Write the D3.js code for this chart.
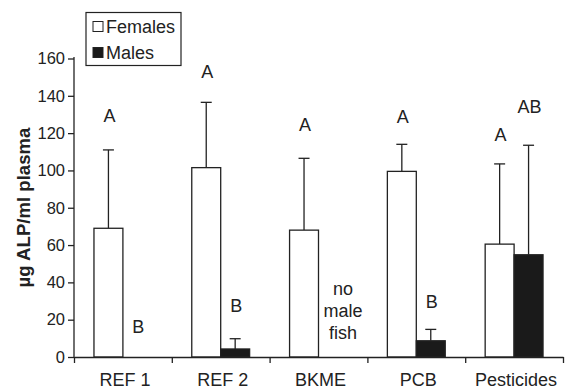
<!DOCTYPE html>
<html>
<head>
<meta charset="utf-8">
<script src="https://cdn.jsdelivr.net/npm/d3@7"></script>
<style>
  body { margin: 0; background: #fff; }
  text { font-family: "Liberation Sans", Arial, sans-serif; fill: #222; }
</style>
</head>
<body>
<div id="chart"></div>
<script>
// data
const groups = ["REF 1", "REF 2", "BKME", "PCB", "Pesticides"];
const series = ["Females", "Males"];
const femaleMean = [69, 101.5, 68, 99.5, 60.5];
const femaleErr = [111, 136.5, 106.5, 114, 103.5];   // top of upper error bar
const maleMean = [0, 4.3, null, 8.7, 54.8];          // BKME: no male fish
const maleErr = [null, 9.8, null, 14.8, 113.5];
const femaleLetters = ["A", "A", "A", "A", "A"];
const femaleLetterAt = [129.5, 153, 124.5, 129, 119];
const maleLetters = ["B", "B", null, "B", "AB"];
const maleLetterAt = [16.5, 27.5, null, 29.5, 134];
const yTicks = [0, 20, 40, 60, 80, 100, 120, 140, 160];

const width = 568, height = 389;
const margin = {top: 58.5, right: 5, bottom: 32, left: 74};

const svg = d3.select("#chart").append("svg")
    .attr("width", width)
    .attr("height", height);

const x0 = d3.scaleBand()
    .domain(groups)
    .range([margin.left, width - margin.right])
    .padding(0);

const x1 = d3.scaleBand()
    .domain(series)
    .range([0, x0.bandwidth()])
    .paddingInner(0)
    .paddingOuter(0.69);

const y = d3.scaleLinear()
    .domain([0, 160])
    .range([height - margin.bottom, margin.top]);

// boundary ticks for the x axis
const xb = d3.scaleLinear()
    .domain([0, groups.length])
    .range(x0.range());

const rows = groups.map((g, i) => ({
    group: g,
    values: [
        {key: "Females", mean: femaleMean[i], err: femaleErr[i], letter: femaleLetters[i], at: femaleLetterAt[i]},
        {key: "Males", mean: maleMean[i], err: maleErr[i], letter: maleLetters[i], at: maleLetterAt[i]}
    ]
}));

const ink = "#222";

const gGroup = svg.selectAll("g.grp")
    .data(rows)
    .join("g")
    .attr("class", "grp")
    .attr("transform", d => `translate(${x0(d.group)},0)`);

// error bars (upper only), drawn before the bars
const eb = gGroup.selectAll("g.err")
    .data(d => d.values.filter(v => v.err != null))
    .join("g")
    .attr("class", "err")
    .attr("stroke", ink)
    .attr("stroke-width", 1.3);

eb.append("line")
    .attr("x1", d => x1(d.key) + x1.bandwidth() / 2)
    .attr("x2", d => x1(d.key) + x1.bandwidth() / 2)
    .attr("y1", d => y(d.mean))
    .attr("y2", d => y(d.err));

eb.append("line")
    .attr("x1", d => x1(d.key) + x1.bandwidth() / 2 - 5.5)
    .attr("x2", d => x1(d.key) + x1.bandwidth() / 2 + 5.5)
    .attr("y1", d => y(d.err))
    .attr("y2", d => y(d.err));

gGroup.selectAll("rect")
    .data(d => d.values.filter(v => v.mean != null))
    .join("rect")
    .attr("x", d => x1(d.key))
    .attr("width", x1.bandwidth())
    .attr("y", d => y(d.mean))
    .attr("height", d => y(0) - y(d.mean))
    .attr("fill", d => d.key === "Females" ? "#fff" : "#1a1a1a")
    .attr("stroke", ink)
    .attr("stroke-width", 1.3);

// significance letters
gGroup.selectAll("text.letter")
    .data(d => d.values.filter(v => v.letter))
    .join("text")
    .attr("class", "letter")
    .attr("x", d => x1(d.key) + x1.bandwidth() / 2 + 1)
    .attr("y", d => y(d.at))
    .attr("dy", "0.36em")
    .attr("text-anchor", "middle")
    .style("font-size", "18px")
    .text(d => d.letter);

// note for BKME males
const noteX = x0("BKME") + x1("Males") + x1.bandwidth() / 2 + 10;
const note = svg.append("text")
    .attr("x", noteX)
    .attr("y", y(36.5))
    .attr("text-anchor", "middle")
    .style("font-size", "18px");
["no", "male", "fish"].forEach((w, i) => {
    note.append("tspan")
        .attr("x", noteX)
        .attr("dy", i === 0 ? "0.36em" : "1.2em")
        .text(w);
});

// y axis
const yAxis = svg.append("g")
    .attr("transform", `translate(${margin.left},0)`)
    .call(d3.axisLeft(y).tickValues(yTicks).tickSize(6).tickPadding(3).tickSizeOuter(0));
yAxis.selectAll("text").style("font-size", "16.5px").attr("fill", ink);
yAxis.selectAll("line, path").attr("stroke", ink).attr("stroke-width", 1.3);
yAxis.select(".domain").attr("d", `M0,${y(160) - 1.5}V${y(0)}`);

// x axis (ticks at group boundaries)
const xAxis = svg.append("g")
    .attr("transform", `translate(0,${y(0)})`)
    .call(d3.axisBottom(xb).tickValues(d3.range(groups.length + 1)).tickSize(6).tickFormat("").tickSizeOuter(0));
xAxis.selectAll("line, path").attr("stroke", ink).attr("stroke-width", 1.3);

svg.append("g")
    .selectAll("text")
    .data(groups)
    .join("text")
    .attr("x", d => x0(d) + x0.bandwidth() / 2 + 2)
    .attr("y", height - 3)
    .attr("text-anchor", "middle")
    .style("font-size", "18px")
    .text(d => d);

// y axis title
svg.append("text")
    .attr("transform", "translate(29.5,207.5) rotate(-90)")
    .attr("text-anchor", "middle")
    .style("font-size", "18.6px")
    .style("font-weight", "bold")
    .text("\u00b5g ALP/ml plasma");

// legend
const legend = svg.append("g").attr("transform", "translate(86,12.5)");
legend.append("rect")
    .attr("width", 95)
    .attr("height", 53)
    .attr("fill", "#fff")
    .attr("stroke", ink)
    .attr("stroke-width", 1.2);
const li = legend.selectAll("g.item")
    .data(series)
    .join("g")
    .attr("class", "item")
    .attr("transform", (d, i) => `translate(6,${14 + i * 26})`);
li.append("rect")
    .attr("x", 1)
    .attr("y", -5)
    .attr("width", 10)
    .attr("height", 10)
    .attr("fill", d => d === "Females" ? "#fff" : "#1a1a1a")
    .attr("stroke", ink)
    .attr("stroke-width", 1);
li.append("text")
    .attr("x", 14)
    .attr("dy", "0.36em")
    .style("font-size", "18px")
    .text(d => d);
</script>
</body>
</html>
